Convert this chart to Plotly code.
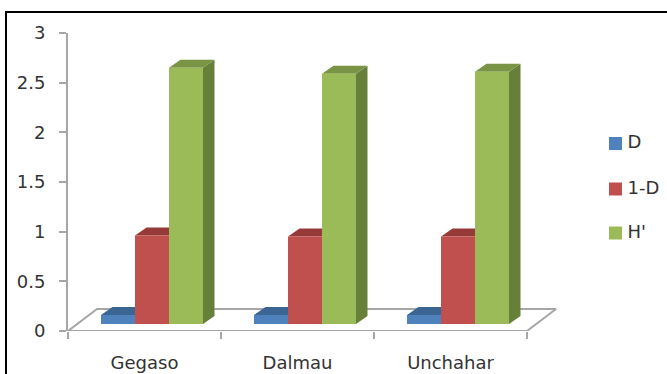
import plotly.graph_objects as go

# Diversity indices per site
sites = ["Gegaso", "Dalmau", "Unchahar"]
d_values = [0.09, 0.09, 0.09]
one_minus_d = [0.89, 0.88, 0.88]
h_values = [2.58, 2.52, 2.54]

series_names = ["D", "1-D", "H'"]
front_colors = ["#4F81BD", "#C0504D", "#9BBB59"]
top_colors = ["#3B6593", "#963A38", "#7A9446"]
side_colors = ["#34587F", "#7F3230", "#66803A"]

# Box geometry in axis units
PLOT_W = 599.0
PLOT_H = 298.0
PX_X = 153.0
PX_Y = PLOT_H / 3
bar_start = 33 / PX_X
bar_width = 34 / PX_X
depth_x = 11.5 / PX_X
depth_y = 8 / PX_Y
floor_inset = 7 / PX_Y
floor_x = 29 / PX_X
floor_y = 22 / PX_Y
x_max = PLOT_W / PX_X

# Key placement, in axis units
key_x = 547.5 / PX_X
key_label_x = 559.5 / PX_X
key_y = [187.5 / PX_Y, 142 / PX_Y, 98 / PX_Y]

fig = go.Figure()

# Floor of the 3D box
fig.add_trace(go.Scatter(
    x=[0, 3, 3 + floor_x, floor_x, 0],
    y=[0, 0, floor_y, floor_y, 0],
    mode="lines",
    line=dict(color="#A6A6A6", width=2),
    fill="toself",
    fillcolor="white",
    showlegend=False,
    hoverinfo="skip",
    cliponaxis=False,
))

all_values = [d_values, one_minus_d, h_values]

# Side and top faces sit under the front faces
for s, values in enumerate(all_values):
    for i, v in enumerate(values):
        x0 = i + bar_start + s * bar_width
        x1 = x0 + bar_width
        base = floor_inset
        top = base + v
        fig.add_trace(go.Scatter(
            x=[x1, x1 + depth_x, x1 + depth_x, x1, x1],
            y=[base, base + depth_y, top + depth_y, top, base],
            mode="lines", line=dict(width=0),
            fill="toself", fillcolor=side_colors[s],
            showlegend=False, hoverinfo="skip",
        ))
        fig.add_trace(go.Scatter(
            x=[x0, x1, x1 + depth_x, x0 + depth_x, x0],
            y=[top, top, top + depth_y, top + depth_y, top],
            mode="lines", line=dict(width=0),
            fill="toself", fillcolor=top_colors[s],
            showlegend=False, hoverinfo="skip",
        ))

font = dict(family="DejaVu Sans, sans-serif", color="#333333")

# Series key: a coloured square followed by the series name
for s, name in enumerate(series_names):
    fig.add_trace(go.Scatter(
        x=[key_x],
        y=[key_y[s]],
        mode="markers",
        marker=dict(symbol="square", size=13, color=front_colors[s]),
        showlegend=False,
        hoverinfo="skip",
        cliponaxis=False,
    ))
    fig.add_trace(go.Scatter(
        x=[key_label_x],
        y=[key_y[s]],
        mode="text",
        text=[name],
        textposition="middle right",
        textfont=dict(size=18, **font),
        showlegend=False,
        hoverinfo="skip",
        cliponaxis=False,
    ))

# Front faces on an overlaid axis pair so they cover the neighbouring tops
for s, values in enumerate(all_values):
    fig.add_trace(go.Bar(
        x=[i + bar_start + (s + 0.5) * bar_width for i in range(len(sites))],
        y=values,
        base=[floor_inset] * len(values),
        width=bar_width,
        name=series_names[s],
        showlegend=False,
        marker=dict(color=front_colors[s], line=dict(width=0)),
        xaxis="x2",
        yaxis="y2",
    ))

fig.update_layout(
    width=667,
    height=374,
    margin=dict(l=68, r=0, t=33, b=43, autoexpand=False),
    paper_bgcolor="white",
    plot_bgcolor="white",
    barmode="overlay",
    showlegend=False,
    xaxis=dict(
        range=[0, x_max],
        automargin=False,
        showgrid=False,
        zeroline=False,
        showline=False,
        tickmode="array",
        tickvals=[0.5, 1.5, 2.5],
        ticktext=sites,
        ticks="outside",
        ticklen=15,
        tickcolor="rgba(0,0,0,0)",
        tickfont=dict(size=18, **font),
        minor=dict(
            tickmode="array",
            tickvals=[0, 1, 2, 3],
            ticks="outside",
            ticklen=7,
            tickwidth=2,
            tickcolor="#A6A6A6",
        ),
    ),
    yaxis=dict(
        range=[0, 3],
        automargin=False,
        showgrid=False,
        zeroline=False,
        showline=True,
        linecolor="#A6A6A6",
        linewidth=2,
        tickmode="array",
        tickvals=[0, 0.5, 1, 1.5, 2, 2.5, 3],
        ticktext=["0", "0.5", "1", "1.5", "2", "2.5", "3"],
        ticks="outside",
        ticklen=7,
        tickwidth=2,
        tickcolor="#A6A6A6",
        tickfont=dict(size=18, **font),
        ticklabelstandoff=10,
    ),
    xaxis2=dict(range=[0, x_max], overlaying="x", visible=False),
    yaxis2=dict(range=[0, 3], overlaying="y", visible=False),
    shapes=[
        # Frame around the chart, running off the right and bottom edges
        dict(
            type="rect", xref="paper", yref="paper",
            x0=-62 / PLOT_W, x1=1.02,
            y0=-60 / PLOT_H, y1=1 + 21 / PLOT_H,
            line=dict(color="black", width=2),
            fillcolor="rgba(0,0,0,0)",
            layer="above",
        ),
    ],
)

fig.write_html("out.html")
